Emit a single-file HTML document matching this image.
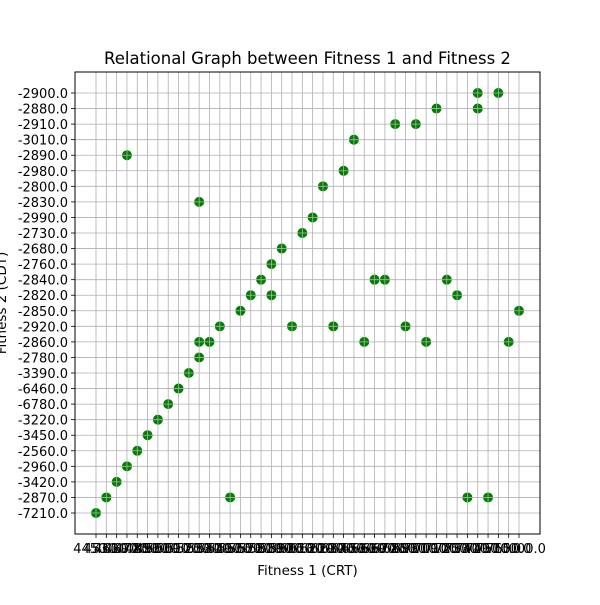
<!DOCTYPE html>
<html><head><meta charset="utf-8"><style>
body{margin:0;background:#fff}
text{font-family:"DejaVu Sans","Liberation Sans",sans-serif}
</style></head><body>
<svg id="c" width="600" height="600"></svg>
<script>
const xLabels=["4450.0","4530.0","4610.0","4690.0","4770.0","4850.0","4930.0","5010.0","5090.0","5170.0","5250.0","5330.0","5410.0","5490.0","5570.0","5650.0","5730.0","5810.0","5890.0","5970.0","6050.0","6130.0","6210.0","6290.0","6370.0","6450.0","6530.0","6610.0","6690.0","6770.0","6850.0","6930.0","7010.0","7090.0","7170.0","7250.0","7330.0","7410.0","7490.0","7570.0","7650.0","10000.0"];
const yLabels=["-7210.0","-2870.0","-3420.0","-2960.0","-2560.0","-3450.0","-3220.0","-6780.0","-6460.0","-3390.0","-2780.0","-2860.0","-2920.0","-2850.0","-2820.0","-2840.0","-2760.0","-2680.0","-2730.0","-2990.0","-2830.0","-2800.0","-2980.0","-2890.0","-3010.0","-2910.0","-2880.0","-2900.0"];
const pointX=[0,1,2,3,3,4,5,6,7,8,9,10,10,10,11,12,13,14,15,16,17,17,18,19,20,21,22,23,24,25,26,27,28,29,30,31,32,33,34,35,36,37,37,38,39,40,41];
const pointY=[0,1,2,3,23,4,5,6,7,8,9,10,11,20,11,12,1,13,14,15,16,14,17,12,18,19,21,12,22,24,11,15,15,25,12,25,11,26,15,14,1,27,26,1,27,11,13];
const ns="http://www.w3.org/2000/svg",svg=document.getElementById('c');
const L=75,R=540,T=72,B=534;
const x0=96,x1=519,y0=513,y1=93;
const sx=i=>x0+i*(x1-x0)/(xLabels.length-1);
const sy=j=>y0-j*(y0-y1)/(yLabels.length-1);
function mk(t,a,p){const e=document.createElementNS(ns,t);for(const k in a)e.setAttribute(k,a[k]);(p||svg).appendChild(e);return e;}
const pts=mk('g',{});


pointX.forEach((v,k)=>{const c=mk('circle',{cx:sx(v),cy:sy(pointY[k]),r:5,fill:'#008000'},pts);

});
const g=mk('g',{stroke:'#b0b0b0','stroke-width':0.8});


xLabels.forEach((l,i)=>{const x=sx(i);mk('line',{x1:x,x2:x,y1:T,y2:B},g);mk('line',{x1:x,x2:x,y1:B,y2:B+4,stroke:'#000'},g);
const t=mk('text',{x:x,y:B+19,'font-size':13,'text-anchor':'middle'});t.textContent=l;

});
yLabels.forEach((l,j)=>{const y=sy(j);mk('line',{x1:L,x2:R,y1:y,y2:y},g);mk('line',{x1:L-4,x2:L,y1:y,y2:y,stroke:'#000'},g);
const t=mk('text',{x:L-7,y:y+5,'font-size':13,'text-anchor':'end'});t.textContent=l;

});
const f=mk('rect',{x:L,y:T,width:R-L,height:B-T,fill:'none',stroke:'#000','stroke-width':1});


let t=mk('text',{x:(L+R)/2,y:64,'font-size':16.5,'text-anchor':'middle'});t.textContent='Relational Graph between Fitness 1 and Fitness 2';


t=mk('text',{x:(L+R)/2,y:575,'font-size':13.5,'text-anchor':'middle'});t.textContent='Fitness 1 (CRT)';


t=mk('text',{x:0,y:0,'font-size':13.5,'text-anchor':'middle',transform:`translate(6,${(T+B)/2}) rotate(-90)`});t.textContent='Fitness 2 (CDT)';


</script>
</body></html>
